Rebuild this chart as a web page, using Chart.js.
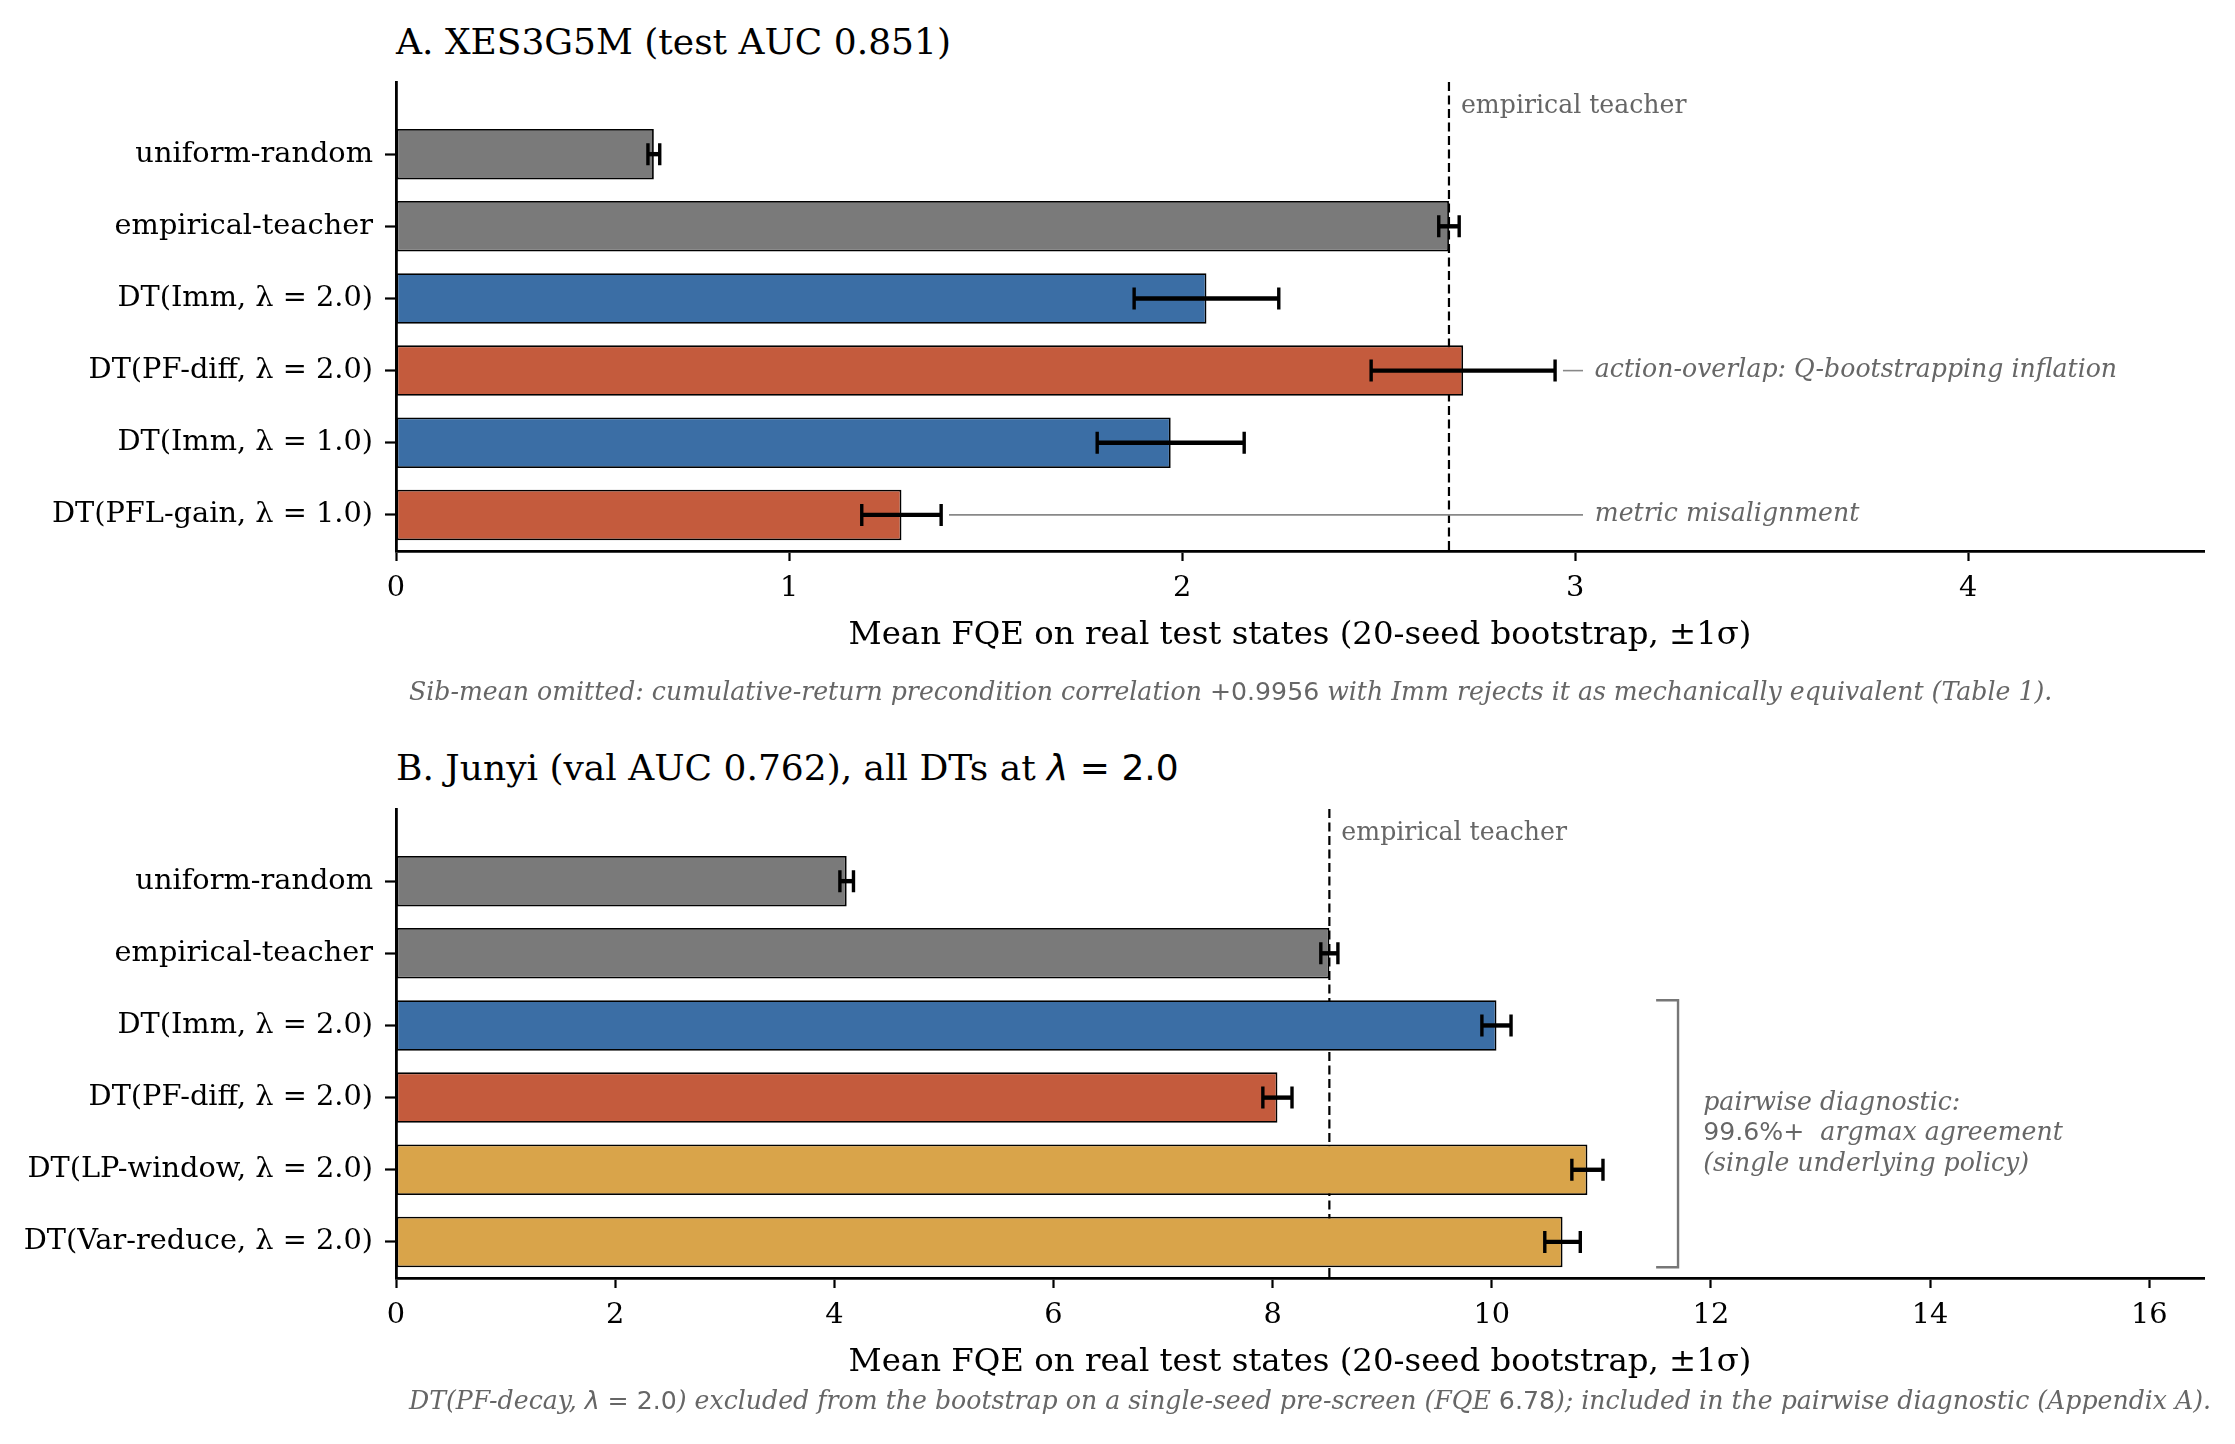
<!DOCTYPE html>
<html>
<head>
<meta charset="utf-8">
<script src="https://cdn.jsdelivr.net/npm/chart.js@4.4.1/dist/chart.umd.min.js"></script>
<style>
  html, body { margin: 0; padding: 0; background: #fff; }
  body { width: 2235px; height: 1444px; position: relative; overflow: hidden; font-family: 'DejaVu Serif', serif; }
  canvas { position: absolute; left: 0; }
  #chartA { top: 0; }
  #chartB { top: 727px; }
  .title { position: absolute; left: 396px; font-size: 36px; line-height: 1; color: #000; white-space: nowrap; }
  .note { position: absolute; left: 409px; font-size: 25.2px; line-height: 1; color: #666; font-style: italic; white-space: nowrap; }
  .m { font-family: 'DejaVu Sans', sans-serif; font-style: normal; }
  .mi { font-family: 'DejaVu Sans', sans-serif; font-style: italic; }
</style>
</head>
<body>
<div class="title" style="top:24px">A. XES3G5M (test AUC 0.851)</div>
<canvas id="chartA" width="2235" height="700"></canvas>
<div class="note" style="top:679px">Sib-mean omitted: cumulative-return precondition correlation <span class="m">+0.9956</span> with Imm rejects it as mechanically equivalent (Table 1).</div>

<div class="title" style="top:750px">B. Junyi (val AUC 0.762), all DTs at <span class="mi">λ</span><span class="m"> = 2.0</span></div>
<canvas id="chartB" width="2235" height="700"></canvas>
<div class="note" style="top:1388px">DT(PF-decay, <span class="mi">λ</span><span class="m"> = 2.0</span>) excluded from the bootstrap on a single-seed pre-screen (FQE <span class="m">6.78</span>); included in the pairwise diagnostic (Appendix A).</div>

<script>
// --- DATA: panel A (XES3G5M) ---
const labelsA = ['uniform-random', 'empirical-teacher', 'DT(Imm, λ = 2.0)', 'DT(PF-diff, λ = 2.0)', 'DT(Imm, λ = 1.0)', 'DT(PFL-gain, λ = 1.0)'];
const meansA = [0.656, 2.679, 2.062, 2.715, 1.971, 1.286];
const errsA = [0.015, 0.026, 0.184, 0.234, 0.187, 0.101];
const ticksA = [0, 1, 2, 3, 4];

// --- DATA: panel B (Junyi) ---
const labelsB = ['uniform-random', 'empirical-teacher', 'DT(Imm, λ = 2.0)', 'DT(PF-diff, λ = 2.0)', 'DT(LP-window, λ = 2.0)', 'DT(Var-reduce, λ = 2.0)'];
const meansB = [4.113, 8.518, 10.043, 8.044, 10.873, 10.646];
const errsB = [0.062, 0.078, 0.133, 0.133, 0.142, 0.162];
const ticksB = [0, 2, 4, 6, 8, 10, 12, 14, 16];

// --- ANNOTATION TEXT ---
const calloutsA = [
    { idx: 3, text: 'action-overlap: Q-bootstrapping inflation' },
    { idx: 5, text: 'metric misalignment' }
];
const bracketLinesB = [
    [{ t: 'pairwise diagnostic:', f: 'italic 25.2px "DejaVu Serif"' }],
    [{ t: '99.6%+', f: '25.2px "DejaVu Sans"' }, { t: '  argmax agreement', f: 'italic 25.2px "DejaVu Serif"' }],
    [{ t: '(single underlying policy)', f: 'italic 25.2px "DejaVu Serif"' }]
];
const xTitle = 'Mean FQE on real test states (20-seed bootstrap, ±1σ)';

// --- STYLE ---
const GRAY = '#7a7a7a', BLUE = '#3b6ea5', RED = '#c45b3d', GOLD = '#d9a44a';
const colorsA = [GRAY, GRAY, BLUE, RED, BLUE, RED];
const colorsB = [GRAY, GRAY, BLUE, RED, GOLD, GOLD];
const NOTE = '#666666';

// --- HELPERS ---
function drawRuns(ctx, runs, x, y) {
    let cx = x;
    runs.forEach(r => {
        ctx.font = r.f;
        ctx.fillText(r.t, cx, y);
        cx += ctx.measureText(r.t).width;
    });
}

function overlay(cfg) {
    return {
        id: 'overlay_' + cfg.name,
        beforeDatasetsDraw(chart) {
            const { ctx, chartArea, scales: { x } } = chart;
            const tx = x.getPixelForValue(cfg.means[1]);
            ctx.save();
            ctx.strokeStyle = '#000';
            ctx.lineWidth = 2.2;
            ctx.setLineDash([9, 4.5]);
            ctx.beginPath();
            ctx.moveTo(tx, chartArea.top);
            ctx.lineTo(tx, chartArea.bottom);
            ctx.stroke();
            ctx.setLineDash([]);
            ctx.fillStyle = NOTE;
            ctx.textBaseline = 'middle';
            ctx.font = '25.2px "DejaVu Serif"';
            ctx.fillText('empirical teacher', tx + 12, chartArea.top + 24);
            ctx.restore();
        },
        afterDatasetsDraw(chart) {
            const { ctx, scales: { x, y } } = chart;
            ctx.save();
            // error bars
            ctx.strokeStyle = '#000';
            cfg.means.forEach((m, i) => {
                const py = y.getPixelForValue(i);
                const x1 = x.getPixelForValue(m - cfg.errs[i]);
                const x2 = x.getPixelForValue(m + cfg.errs[i]);
                ctx.lineWidth = 4.4;
                ctx.beginPath();
                ctx.moveTo(x1, py); ctx.lineTo(x2, py);
                ctx.stroke();
                ctx.lineWidth = 3.4;
                ctx.beginPath();
                ctx.moveTo(x1, py - 11); ctx.lineTo(x1, py + 11);
                ctx.moveTo(x2, py - 11); ctx.lineTo(x2, py + 11);
                ctx.stroke();
            });
            // callouts with connector lines
            (cfg.callouts || []).forEach(c => {
                const py = y.getPixelForValue(c.idx);
                const xs = x.getPixelForValue(cfg.means[c.idx] + cfg.errs[c.idx] + 0.02);
                const xe = x.getPixelForValue(cfg.calloutX - 0.03);
                ctx.strokeStyle = '#888';
                ctx.lineWidth = 1.6;
                ctx.beginPath();
                ctx.moveTo(xs, py); ctx.lineTo(xe, py);
                ctx.stroke();
                ctx.fillStyle = NOTE;
                ctx.textBaseline = 'middle';
                ctx.font = 'italic 25.2px "DejaVu Serif"';
                ctx.fillText(c.text, x.getPixelForValue(cfg.calloutX), py);
            });
            // bracket
            if (cfg.bracket) {
                const b = cfg.bracket;
                const top = y.getPixelForValue(b.from - 0.35);
                const bot = y.getPixelForValue(b.to + 0.35);
                const bx = x.getPixelForValue(b.x);
                const bl = x.getPixelForValue(b.x - 0.2);
                ctx.strokeStyle = '#777';
                ctx.lineWidth = 2.4;
                ctx.beginPath();
                ctx.moveTo(bl, top); ctx.lineTo(bx, top); ctx.lineTo(bx, bot); ctx.lineTo(bl, bot);
                ctx.stroke();
                ctx.fillStyle = NOTE;
                ctx.textBaseline = 'middle';
                const mid = (top + bot) / 2;
                const tx = x.getPixelForValue(b.textX);
                b.lines.forEach((runs, k) => {
                    drawRuns(ctx, runs, tx, mid + (k - 1) * 30.5);
                });
            }
            ctx.restore();
        }
    };
}

function makeChart(id, labels, means, errs, colors, ticks, xMax, plugin) {
    const tickFont = { family: 'DejaVu Serif', size: 28.8 };
    return new Chart(document.getElementById(id), {
        type: 'bar',
        data: {
            datasets: [{
                data: means.map((v, i) => ({ x: v, y: i })),
                backgroundColor: colors,
                borderColor: '#000',
                borderWidth: 1.8,
                borderSkipped: false,
                categoryPercentage: 1,
                barPercentage: 0.7
            }]
        },
        options: {
            indexAxis: 'y',
            responsive: false,
            animation: false,
            layout: { padding: { top: 82, right: 31, bottom: 45, left: 0 } },
            plugins: { legend: { display: false }, tooltip: { enabled: false } },
            scales: {
                x: {
                    type: 'linear', min: 0, max: xMax,
                    afterBuildTicks: s => { s.ticks = ticks.map(v => ({ value: v })); },
                    afterFit: s => { s.height = 104; },
                    grid: { drawOnChartArea: false, drawTicks: true, tickLength: 10, tickWidth: 2.2, tickColor: '#000' },
                    border: { display: true, color: '#000', width: 2.8 },
                    ticks: { font: tickFont, color: '#000', padding: 10, maxRotation: 0 },
                    title: { display: true, text: xTitle, font: { family: 'DejaVu Serif', size: 32.4 }, color: '#000', padding: 0 }
                },
                y: {
                    type: 'linear', reverse: true, min: -1, max: 5.5, offset: false,
                    afterBuildTicks: s => { s.ticks = labels.map((_, i) => ({ value: i })); },
                    afterFit: s => { s.width = 396; },
                    grid: { offset: false, drawOnChartArea: false, drawTicks: true, tickLength: 11, tickWidth: 2.2, tickColor: '#000' },
                    border: { display: true, color: '#000', width: 2.8 },
                    ticks: { callback: v => labels[v], font: tickFont, color: '#000', padding: 12 }
                }
            }
        },
        plugins: [plugin]
    });
}

makeChart('chartA', labelsA, meansA, errsA, colorsA, ticksA, 4.6,
    overlay({ name: 'A', means: meansA, errs: errsA, callouts: calloutsA, calloutX: 3.05 }));

makeChart('chartB', labelsB, meansB, errsB, colorsB, ticksB, 16.5,
    overlay({ name: 'B', means: meansB, errs: errsB,
        bracket: { from: 2, to: 5, x: 11.7, textX: 11.93, lines: bracketLinesB } }));
</script>
</body>
</html>
